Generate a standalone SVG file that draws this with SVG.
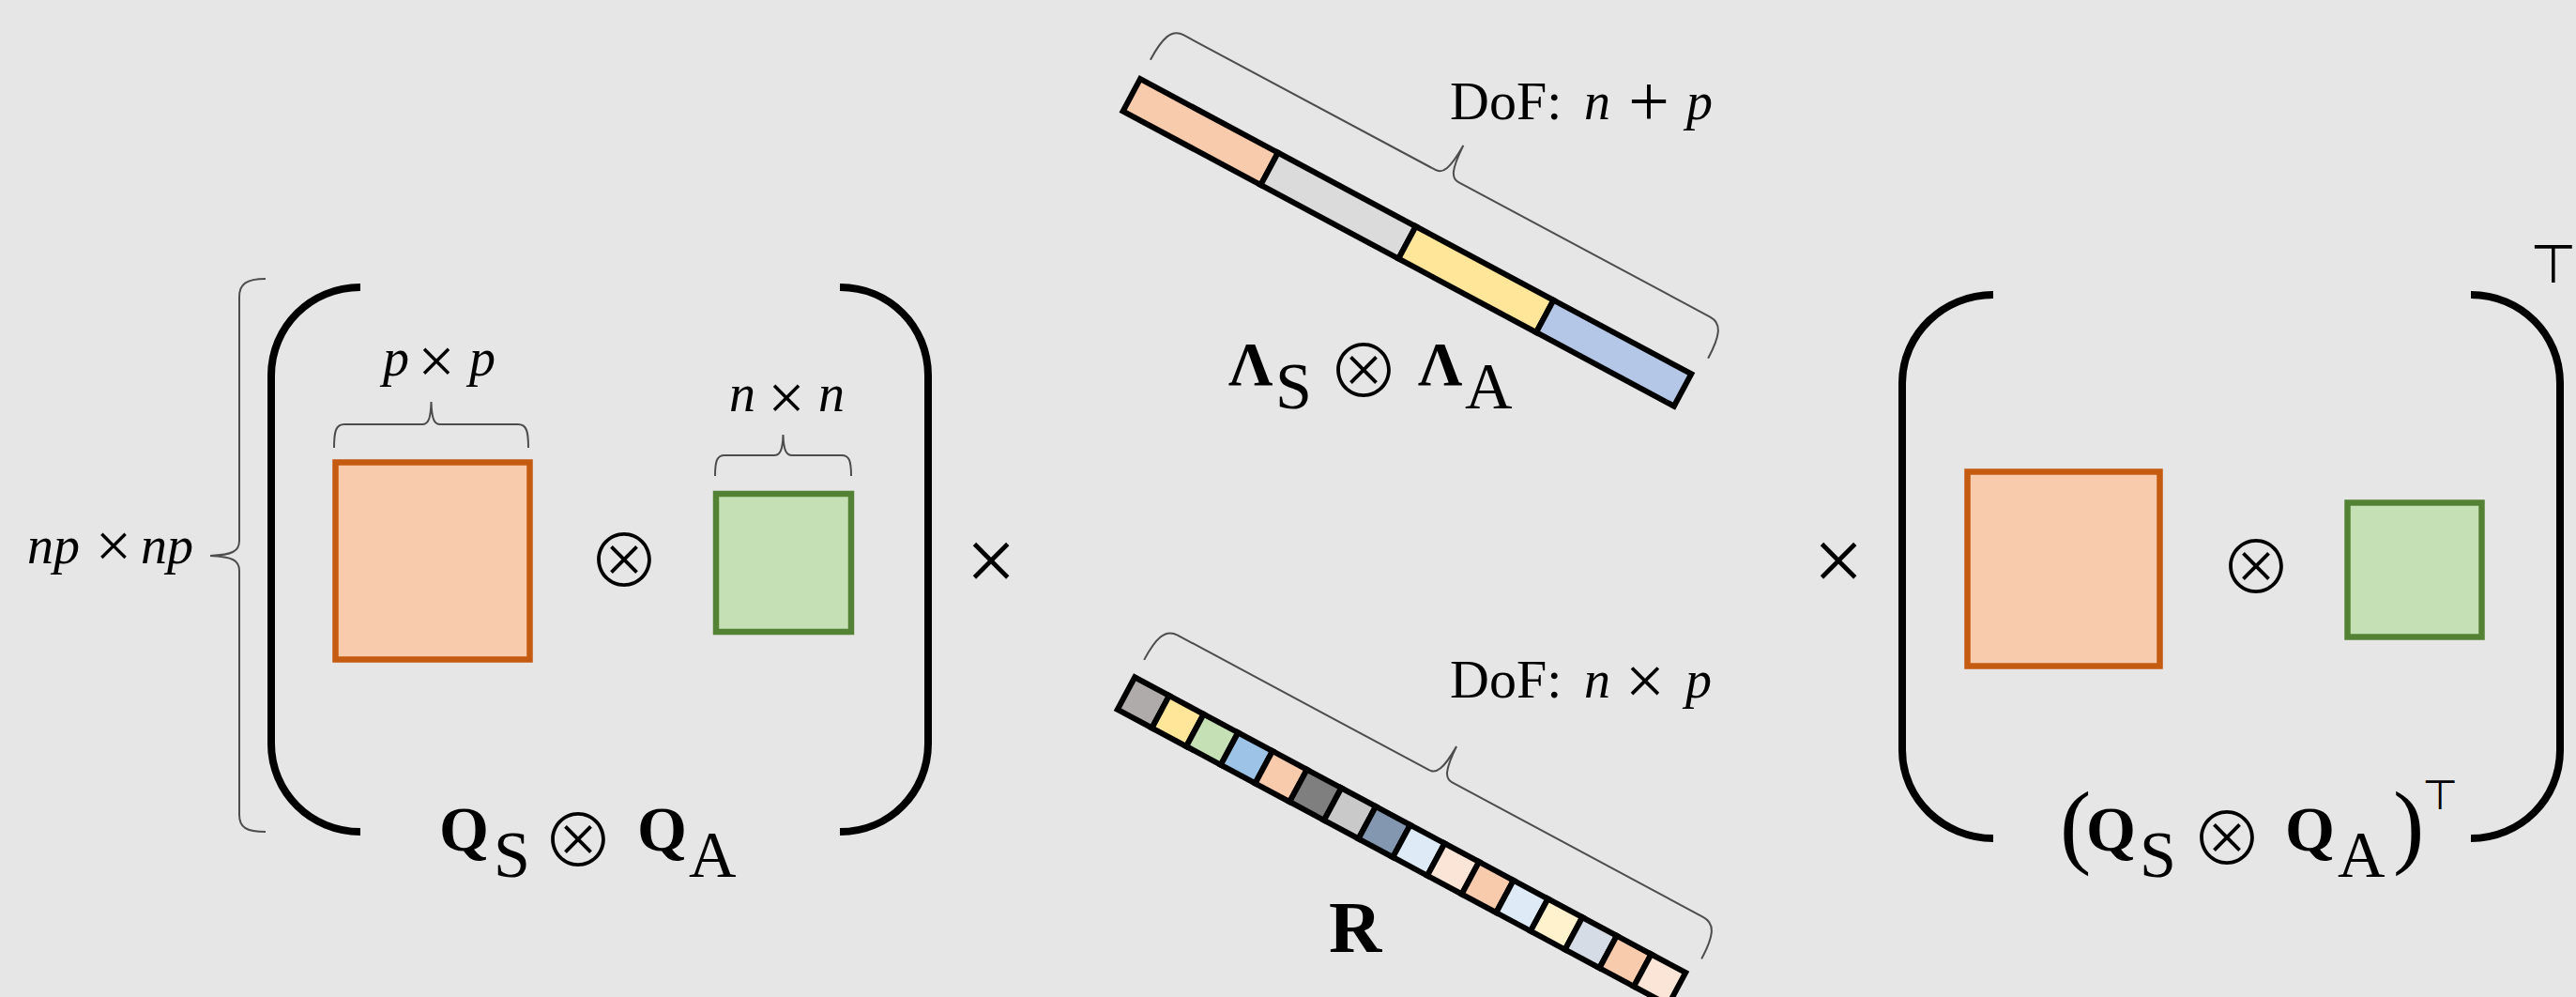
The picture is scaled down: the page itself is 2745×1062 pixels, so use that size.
<svg xmlns="http://www.w3.org/2000/svg" width="2745" height="1062" viewBox="0 0 2745 1062">
<style>
.paren{fill:none;stroke:#000;stroke-width:8}
.brace{fill:none;stroke:#4d4d4d;stroke-width:2}
.orange{fill:#F8CBAD;stroke:#C55A11;stroke-width:6.5}
.green{fill:#C5E0B4;stroke:#548235;stroke-width:6.5}
.cell{stroke:#000;stroke-width:6}
text{fill:#000}
.it{font-family:'Liberation Serif',serif;font-style:italic;font-size:56px}
.rm{font-family:'Liberation Serif',serif}
.bf{font-family:'Liberation Serif',serif;font-weight:bold}
.op{font-family:'Noto Sans CJK JP','DejaVu Sans',sans-serif;font-weight:300;text-anchor:middle;dominant-baseline:central}
.top{font-family:'DejaVu Sans',sans-serif;font-weight:200}
</style>
<rect width="2745" height="1062" fill="#e6e6e6"/>

<g id="left-matrix">
  <path class="brace" d="M283,297 C262,297 255,303 255,316 L255,576 C255,587 248,591 224,592 C248,593 255,597 255,608 L255,868 C255,881 262,886 283,886"/>
  <text class="it" x="29" y="600">np</text>
  <text class="rm" x="121" y="604" font-size="68" text-anchor="middle">×</text>
  <text class="it" x="150" y="600">np</text>
  <path class="paren" d="M384,306 C331,306 289,348 289,400 L289,792 C289,844 331,886 384,886"/>
  <path class="paren" d="M895,306 C948,306 989,348 989,400 L989,792 C989,844 948,886 895,886"/>
  <g id="left-QS">
    <path class="brace" d="M356,477 C356,459 358,452 367,452 L450,452 C456,452 459,447 459.5,428 C460,447 463,452 469,452 L552,452 C561,452 563,459 563,477"/>
    <text class="it" x="408" y="400">p</text>
    <text class="rm" x="465" y="408" font-size="70" text-anchor="middle">×</text>
    <text class="it" x="500" y="400">p</text>
    <rect class="orange" x="357.5" y="492.5" width="207" height="210"/>
  </g>
  <text class="op" x="665" y="592" font-size="78">⊗</text>
  <g id="left-QA">
    <path class="brace" d="M762,507 C762,491 764,485 772,485 L825,485 C831,485 834,480 834.5,463 C835,480 838,485 844,485 L897,485 C905,485 907,491 907,507"/>
    <text class="it" x="777" y="438">n</text>
    <text class="rm" x="838" y="447" font-size="70" text-anchor="middle">×</text>
    <text class="it" x="872" y="438">n</text>
    <rect class="green" x="763" y="526" width="144" height="147"/>
  </g>
  <text class="bf" x="468" y="906" font-size="68">Q</text>
  <text class="rm" x="526" y="934" font-size="70">S</text>
  <text class="op" x="616" y="890" font-size="78">⊗</text>
  <text class="bf" x="679" y="906" font-size="68">Q</text>
  <text class="rm" x="734" y="934" font-size="70">A</text>
</g>

<text id="times-1" class="rm" x="1056" y="629" font-size="95" text-anchor="middle">×</text>

<g id="lambda-bar">
  <g transform="translate(1213.8,80) rotate(28.15)">
    <path class="brace" d="M3,-20 C3,-46 7,-60 22,-60 L326,-60 C335,-60 339,-68 340,-97 C341,-68 345,-60 354,-60 L658,-60 C673,-60 677,-46 677,-20"/>
    <rect class="cell" x="3" y="3" width="166.5" height="39" fill="#F8CBAD"/>
    <rect class="cell" x="169.5" y="3" width="166.5" height="39" fill="#DBDBDB"/>
    <rect class="cell" x="336" y="3" width="166.5" height="39" fill="#FFE699"/>
    <rect class="cell" x="502.5" y="3" width="166.5" height="39" fill="#B4C7E7"/>
  </g>
  <text class="rm" x="1545" y="127" font-size="58">DoF:</text>
  <text class="it" x="1688" y="127" font-size="58">n</text>
  <text class="rm" x="1757" y="134" font-size="78" text-anchor="middle">+</text>
  <text class="it" x="1797" y="127" font-size="58">p</text>
  <text class="bf" x="1309" y="410" font-size="66">Λ</text>
  <text class="rm" x="1359" y="435" font-size="70">S</text>
  <text class="op" x="1453" y="390" font-size="78">⊗</text>
  <text class="bf" x="1511" y="410" font-size="66">Λ</text>
  <text class="rm" x="1561" y="435" font-size="70">A</text>
</g>

<g id="r-bar">
  <g transform="translate(1208,717.3) rotate(28.2)">
    <path class="brace" d="M3,-18 C3,-44 7,-58 22,-58 L326,-58 C335,-58 339,-66 340,-94 C341,-66 345,-58 354,-58 L658,-58 C673,-58 677,-44 677,-18"/>
    <rect class="cell" x="3" y="3" width="41.625" height="39" fill="#AFABAB"/>
    <rect class="cell" x="44.625" y="3" width="41.625" height="39" fill="#FFE699"/>
    <rect class="cell" x="86.25" y="3" width="41.625" height="39" fill="#C5E0B4"/>
    <rect class="cell" x="127.875" y="3" width="41.625" height="39" fill="#9DC3E6"/>
    <rect class="cell" x="169.5" y="3" width="41.625" height="39" fill="#F8CBAD"/>
    <rect class="cell" x="211.125" y="3" width="41.625" height="39" fill="#7F7F7F"/>
    <rect class="cell" x="252.75" y="3" width="41.625" height="39" fill="#C9C9C9"/>
    <rect class="cell" x="294.375" y="3" width="41.625" height="39" fill="#8497B0"/>
    <rect class="cell" x="336" y="3" width="41.625" height="39" fill="#DEEBF7"/>
    <rect class="cell" x="377.625" y="3" width="41.625" height="39" fill="#FBE5D6"/>
    <rect class="cell" x="419.25" y="3" width="41.625" height="39" fill="#F8CBAD"/>
    <rect class="cell" x="460.875" y="3" width="41.625" height="39" fill="#DEEBF7"/>
    <rect class="cell" x="502.5" y="3" width="41.625" height="39" fill="#FFF2CC"/>
    <rect class="cell" x="544.125" y="3" width="41.625" height="39" fill="#D6DCE5"/>
    <rect class="cell" x="585.75" y="3" width="41.625" height="39" fill="#F8CBAD"/>
    <rect class="cell" x="627.375" y="3" width="41.625" height="39" fill="#FBE5D6"/>
  </g>
  <text class="rm" x="1545" y="743" font-size="58">DoF:</text>
  <text class="it" x="1688" y="743" font-size="58">n</text>
  <text class="rm" x="1753" y="750" font-size="75" text-anchor="middle">×</text>
  <text class="it" x="1796" y="743" font-size="58">p</text>
  <text class="bf" x="1416" y="1014" font-size="78">R</text>
</g>

<text id="times-2" class="rm" x="1959" y="629" font-size="95" text-anchor="middle">×</text>

<g id="right-matrix">
  <path class="paren" d="M2124,314 C2071,314 2027,356 2027,408 L2027,799 C2027,851 2071,893 2124,893"/>
  <path class="paren" d="M2633,314 C2686,314 2728,356 2728,408 L2728,799 C2728,851 2686,893 2633,893"/>
  <text class="top" x="2696" y="301" font-size="57">⊤</text>
  <rect class="orange" x="2096.5" y="502.5" width="205" height="207"/>
  <text class="op" x="2404" y="599" font-size="78">⊗</text>
  <rect class="green" x="2501.5" y="535.5" width="143" height="143"/>
  <text class="rm" x="2195" y="912" font-size="100">(</text>
  <text class="bf" x="2223" y="906" font-size="68">Q</text>
  <text class="rm" x="2280" y="934" font-size="70">S</text>
  <text class="op" x="2373" y="888" font-size="78">⊗</text>
  <text class="bf" x="2435" y="906" font-size="68">Q</text>
  <text class="rm" x="2491" y="934" font-size="70">A</text>
  <text class="rm" x="2550" y="912" font-size="100">)</text>
  <text class="top" x="2581" y="862" font-size="44">⊤</text>
</g>
</svg>
